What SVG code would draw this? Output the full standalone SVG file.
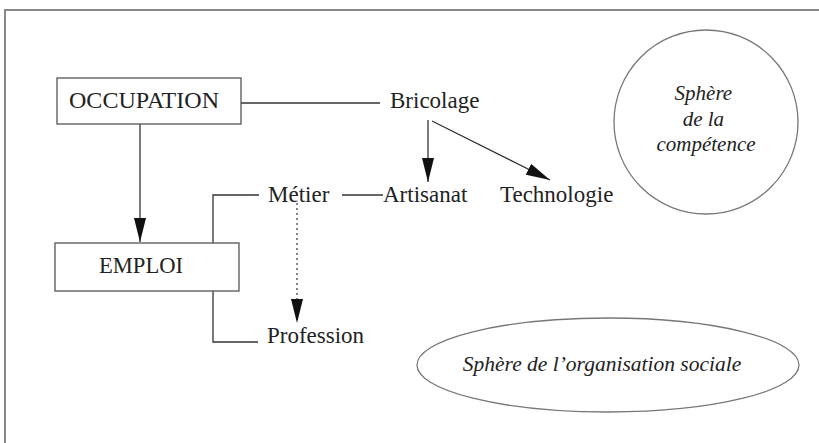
<svg xmlns="http://www.w3.org/2000/svg" width="819" height="443" viewBox="0 0 819 443">
<style>
  .lbl { font-family: "Liberation Serif", "Times New Roman", serif; font-size: 23px; fill: #222; }
  .it { font-family: "Liberation Serif", "Times New Roman", serif; font-style: italic; fill: #222; }
  .box { fill: #fff; stroke: #555; stroke-width: 1.3; }
  .ln { fill: none; stroke: #333; stroke-width: 1.3; }
  .dot { fill: none; stroke: #444; stroke-width: 1.3; stroke-dasharray: 2 3; }
  .sph { fill: #fff; stroke: #777; stroke-width: 1.3; }
  .frame { fill: none; stroke: #888; stroke-width: 2; }
</style>
<defs>
  <marker id="ah" viewBox="0 0 24 12" refX="24" refY="6" markerWidth="24" markerHeight="12" markerUnits="userSpaceOnUse" orient="auto">
    <path d="M0,0 L24,6 L0,12 z" fill="#111"/>
  </marker>
</defs>
<rect width="819" height="443" fill="#fff"/>
<path class="frame" d="M5,443 L5,10 L819,10"/>

<g id="connectors">
  <line class="ln" x1="241" y1="103" x2="380" y2="103"/>
  <line class="ln" x1="140" y1="124" x2="140" y2="242" marker-end="url(#ah)"/>
  <line class="ln" x1="428" y1="120" x2="428" y2="182" marker-end="url(#ah)"/>
  <line class="ln" x1="432" y1="121" x2="550" y2="180" marker-end="url(#ah)"/>
  <path class="ln" d="M213,243 L213,195 L259,195"/>
  <line class="ln" x1="342" y1="195" x2="383" y2="195"/>
  <path class="ln" d="M213,291 L213,342 L258,342"/>
  <line class="dot" x1="297" y1="203" x2="297" y2="323" marker-end="url(#ah)"/>
</g>

<g id="occupation">
  <rect class="box" x="57" y="78" width="184" height="46"/>
  <text class="lbl" x="144" y="108" text-anchor="middle" textLength="150" lengthAdjust="spacingAndGlyphs">OCCUPATION</text>
</g>
<g id="emploi">
  <rect class="box" x="55" y="243" width="184" height="48"/>
  <text class="lbl" x="141" y="273" text-anchor="middle" textLength="84" lengthAdjust="spacingAndGlyphs">EMPLOI</text>
</g>
<g id="bricolage">
  <text class="lbl" x="390" y="108">Bricolage</text>
</g>
<g id="metier">
  <text class="lbl" x="268" y="202">Métier</text>
</g>
<g id="artisanat">
  <text class="lbl" x="383" y="202">Artisanat</text>
</g>
<g id="technologie">
  <text class="lbl" x="500" y="202">Technologie</text>
</g>
<g id="profession">
  <text class="lbl" x="267" y="343">Profession</text>
</g>
<g id="sphere-competence">
  <circle class="sph" cx="706" cy="122" r="92"/>
  <text class="it" font-size="21" text-anchor="middle">
    <tspan x="706" y="100">Sphère</tspan>
    <tspan x="706" y="126">de la</tspan>
    <tspan x="706" y="151">compétence</tspan>
  </text>
</g>
<g id="sphere-organisation">
  <ellipse class="sph" cx="608" cy="365" rx="191" ry="47"/>
  <text class="it" font-size="21.5" x="602" y="371" text-anchor="middle">Sphère de l’organisation sociale</text>
</g>
</svg>
